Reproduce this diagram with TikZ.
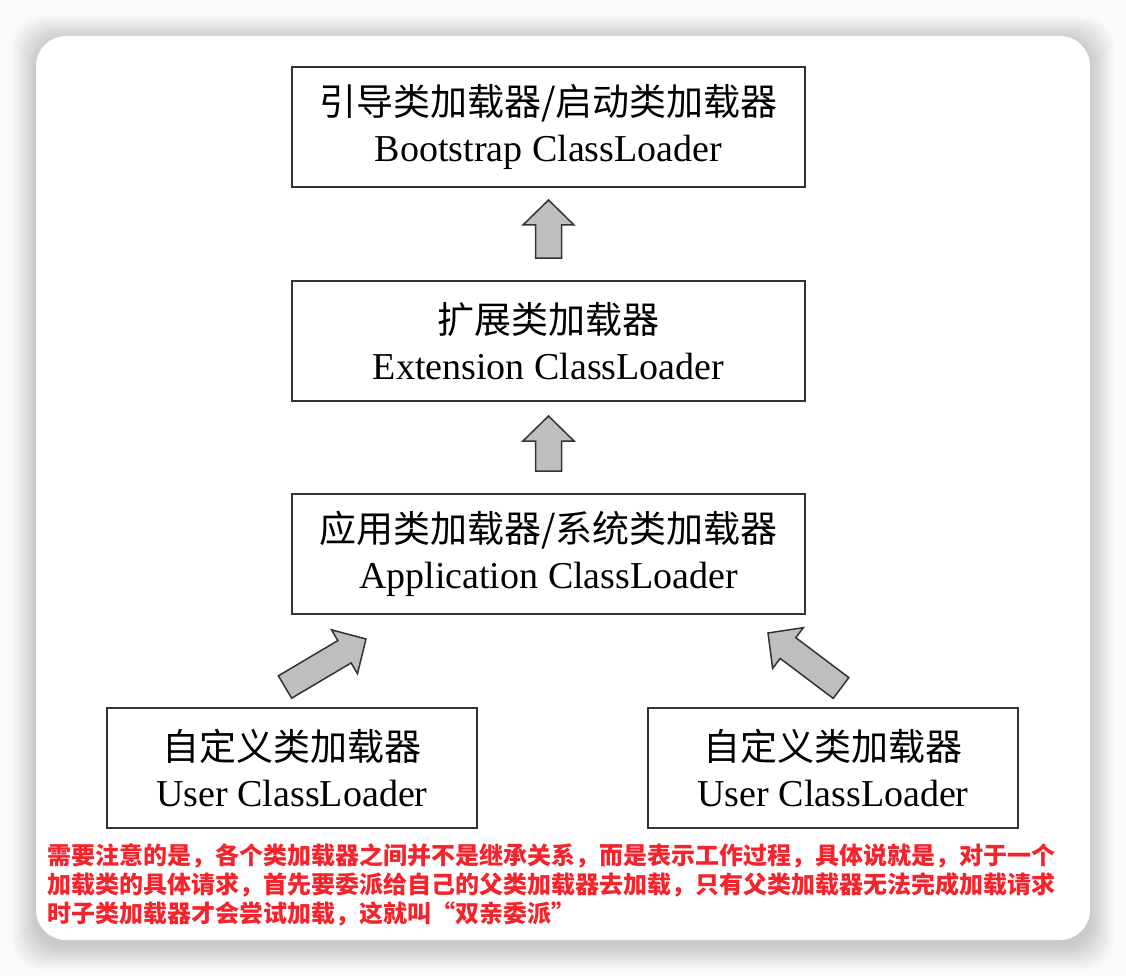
\documentclass[tikz,border=0pt]{standalone}
\usepackage{fontspec}
\setmainfont{Liberation Serif}
\newfontfamily\cn{Noto Sans CJK SC}
\usetikzlibrary{calc}
\definecolor{boxline}{HTML}{333333}
\definecolor{arrowfill}{HTML}{BEBEBE}
\definecolor{notered}{HTML}{F5232B}
\tikzset{
  loader/.style={draw=boxline, line width=1.8pt, fill=white, inner sep=0pt, align=center,
    font=\fontsize{38}{46}\selectfont},
  topbox/.style={loader, minimum width=513pt, minimum height=120pt},
  userbox/.style={loader, minimum width=370pt, minimum height=120pt},
  fatarrow/.style={draw=boxline, line width=1.5pt, fill=arrowfill, line join=miter},
  cardshadow/.style={fill=black, opacity=0.006, rounded corners=30pt},
}
\newcommand\fatarr[2]{%
  \coordinate (hb) at ($(#2)!25pt!(#1)$);
  \draw[fatarrow] ($(#1)!13pt!90:(#2)$) -- ($(hb)!13pt!90:(#2)$) -- ($(hb)!25.5pt!90:(#2)$)
    -- (#2) -- ($(hb)!25.5pt!-90:(#2)$) -- ($(hb)!13pt!-90:(#2)$) -- ($(#1)!13pt!-90:(#2)$) -- cycle;}
\begin{document}
\begin{tikzpicture}[x=1pt,y=-1pt]
\useasboundingbox (0,0) rectangle (1126,976);
\fill[gray!4] (0,0) rectangle (1126,976);
\foreach \r in {1,...,24} {
  \fill[cardshadow] (36-\r, 40-\r) rectangle (1090+\r, 946+\r);
}
\fill[white, rounded corners=30pt] (36,36) rectangle (1090,940);

\node[topbox] (boot) at (548.5,127) {{\cn\fontsize{37}{46}\selectfont 引导类加载器/启动类加载器}\\Bootstrap ClassLoader};
\node[topbox] (ext) at (548.5,341) {{\cn\fontsize{37}{46}\selectfont 扩展类加载器}\\Extension ClassLoader};
\node[topbox] (app) at (548.5,554) {{\cn\fontsize{37}{46}\selectfont 应用类加载器/系统类加载器}\\Application ClassLoader};
\node[userbox] (user1) at (292,768) {{\cn\fontsize{37}{46}\selectfont 自定义类加载器}\\User ClassLoader};
\node[userbox] (user2) at (833,768) {{\cn\fontsize{37}{46}\selectfont 自定义类加载器}\\User ClassLoader};

\coordinate (a1t) at (548.5,258);
\coordinate (a1h) at (548.5,200);
\coordinate (a2t) at (548.5,471);
\coordinate (a2h) at (548.5,416);
\coordinate (a3t) at (285,687);
\coordinate (a3h) at (366,639);
\coordinate (a4t) at (841,688);
\coordinate (a4h) at (768,633);
\fatarr{a1t}{a1h}
\fatarr{a2t}{a2h}
\fatarr{a3t}{a3h}
\fatarr{a4t}{a4h}

\node[anchor=north west, align=left, inner sep=0pt, text=notered,
  font=\cn\bfseries\fontsize{24}{29}\selectfont] (note) at (47,843.5)
  {需要注意的是，各个类加载器之间并不是继承关系，而是表示工作过程，具体说就是，对于一个\\
   加载类的具体请求，首先要委派给自己的父类加载器去加载，只有父类加载器无法完成加载请求\\
   时子类加载器才会尝试加载，这就叫“双亲委派”};
\end{tikzpicture}
\end{document}
